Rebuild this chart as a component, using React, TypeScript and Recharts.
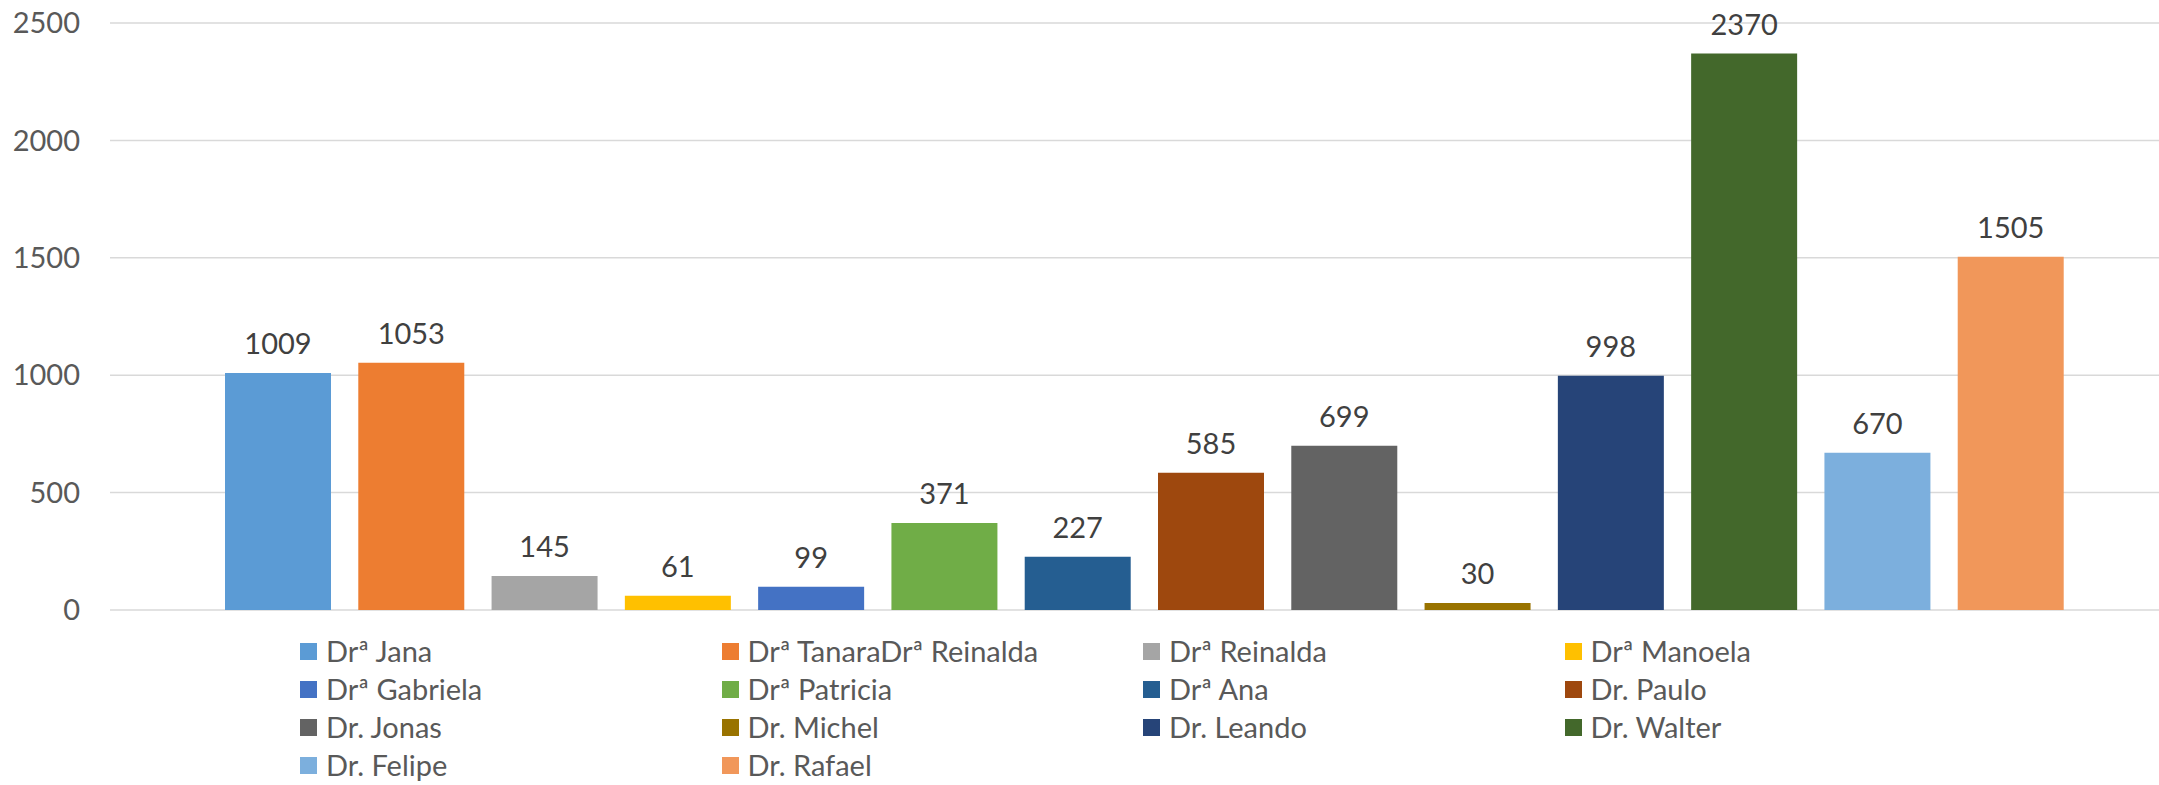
import React from 'react';
import { BarChart, Bar, XAxis, YAxis, CartesianGrid, Cell, LabelList } from 'recharts';

const doctors = [
  'Drª Jana',
  'Drª TanaraDrª Reinalda',
  'Drª Reinalda',
  'Drª Manoela',
  'Drª Gabriela',
  'Drª Patricia',
  'Drª Ana',
  'Dr. Paulo',
  'Dr. Jonas',
  'Dr. Michel',
  'Dr. Leando',
  'Dr. Walter',
  'Dr. Felipe',
  'Dr. Rafael',
];

const counts = [1009, 1053, 145, 61, 99, 371, 227, 585, 699, 30, 998, 2370, 670, 1505];

const colors = [
  '#5B9BD5', '#ED7D31', '#A5A5A5', '#FFC000', '#4472C4', '#70AD47', '#255E91',
  '#9E480E', '#636363', '#997300', '#264478', '#43682B', '#7CAFDD', '#F1975A',
];

const yTicks = [0, 500, 1000, 1500, 2000, 2500];

const data = doctors.map((name, i) => ({ name, value: counts[i] }));

const FONT = 'Lato, "Open Sans", sans-serif';

// legenda em 4 colunas, igual ao Excel
function GridLegend() {
  return (
    <div
      style={{
        position: 'absolute',
        left: 300,
        top: 632,
        display: 'grid',
        gridTemplateColumns: 'repeat(4, 421.5px)',
        fontFamily: FONT,
        fontSize: 29,
        lineHeight: '34px',
        color: '#595959',
      }}
    >
      {doctors.map((name, i) => (
        <div key={name} style={{ display: 'flex', alignItems: 'center', height: 38, whiteSpace: 'nowrap' }}>
          <span style={{ width: 17, height: 17, background: colors[i], marginRight: 9, flexShrink: 0 }} />
          <span>{name}</span>
        </div>
      ))}
    </div>
  );
}

export default function App() {
  return (
    <div style={{ position: 'absolute', left: 0, top: 0, width: 2159, height: 785, background: '#fff', overflow: 'hidden' }}>
      <BarChart
        width={2159}
        height={785}
        data={data}
        margin={{ top: 23, right: 0, left: 0, bottom: 175 }}
        barSize={106}
      >
        <CartesianGrid horizontal vertical={false} stroke="#D9D9D9" strokeWidth={1.5} />
        <XAxis dataKey="name" hide padding={{ left: 101, right: 82 }} />
        <YAxis
          width={110}
          domain={[0, 2500]}
          ticks={yTicks}
          axisLine={false}
          tickLine={false}
          tickSize={0}
          tickMargin={30}
          tick={{ fill: '#595959', fontSize: 29, fontFamily: FONT }}
        />
        <Bar dataKey="value" isAnimationActive={false}>
          {data.map((d, i) => (
            <Cell key={d.name} fill={colors[i]} />
          ))}
          <LabelList
            dataKey="value"
            position="top"
            offset={19}
            fill="#404040"
            fontSize={29}
            fontFamily={FONT}
          />
        </Bar>
      </BarChart>
      <GridLegend />
    </div>
  );
}
